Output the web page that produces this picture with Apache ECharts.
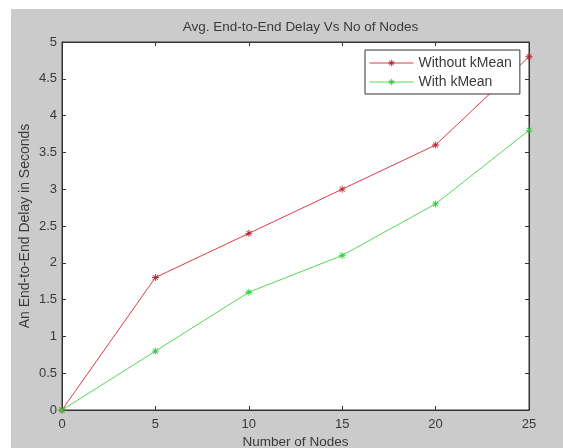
<!DOCTYPE html>
<html>
<head>
<meta charset="utf-8">
<title>Avg. End-to-End Delay Vs No of Nodes</title>
<script src="https://cdn.jsdelivr.net/npm/echarts@6/dist/echarts.min.js"></script>
<style>
  html, body { margin: 0; padding: 0; background: #ffffff; }
  #chart { width: 563px; height: 448px; }
</style>
</head>
<body>
<div id="chart"></div>
<script>
// Node counts on the x axis
const nodes = [0, 5, 10, 15, 20, 25];
// Average end-to-end delay (seconds)
const withoutKMean = [0, 1.8, 2.4, 3.0, 3.6, 4.8];
const withKMean = [0, 0.8, 1.6, 2.1, 2.8, 3.8];
const seriesNames = ['Without kMean', 'With kMean'];

const FONT = 'Liberation Sans, Arial, sans-serif';
const TEXT = '#3a3a3a';

// Asterisk marker built from four thin bars
const ASTERISK = 'path://M4.4 0L5.6 0L5.6 10L4.4 10Z' +
  'M0 4.4L10 4.4L10 5.6L0 5.6Z' +
  'M1 1.8L1.8 1L9 8.2L8.2 9Z' +
  'M8.2 1L9 1.8L1.8 9L1 8.2Z';

const pairs = (xs, ys) => xs.map((x, i) => [x, ys[i]]);

const chart = echarts.init(document.getElementById('chart'), null, { renderer: 'canvas' });

const tickInside = { show: true, inside: true, length: 4, lineStyle: { color: '#333', width: 1 } };

chart.setOption({
  animation: false,
  backgroundColor: 'transparent',
  graphic: [{
    type: 'rect',
    z: -10,
    silent: true,
    shape: { x: 11, y: 9, width: 552, height: 439 },
    style: { fill: '#cbcbcb' }
  }],
  title: {
    text: 'Avg. End-to-End Delay Vs No of Nodes',
    left: 295.5,
    textAlign: 'center',
    top: 15,
    textStyle: { fontFamily: FONT, fontSize: 13.5, fontWeight: 'normal', color: TEXT }
  },
  legend: {
    orient: 'vertical',
    left: 365,
    top: 50,
    padding: [5, 8, 4, 4],
    itemGap: 3,
    itemWidth: 44,
    itemHeight: 8,
    backgroundColor: '#ffffff',
    borderColor: '#333333',
    borderWidth: 1,
    borderRadius: 0,
    lineStyle: { width: 1 },
    textStyle: { fontFamily: FONT, fontSize: 14, color: TEXT, lineHeight: 16 },
    data: seriesNames
  },
  grid: {
    left: 62, top: 42, width: 467, height: 368,
    outerBoundsMode: 'none',
    containLabel: false,
    show: true,
    backgroundColor: '#ffffff',
    borderColor: '#333333',
    borderWidth: 1
  },
  xAxis: [{
    type: 'value',
    min: 0, max: 25, interval: 5,
    name: 'Number of Nodes',
    nameLocation: 'middle',
    nameGap: 25,
    nameMoveOverlap: false,
    nameTextStyle: { fontFamily: FONT, fontSize: 13.5, color: TEXT },
    axisLine: { show: true, onZero: false, lineStyle: { color: '#333' } },
    axisTick: tickInside,
    axisLabel: { fontFamily: FONT, fontSize: 13, color: TEXT, margin: 8 },
    splitLine: { show: false }
  }, {
    type: 'value',
    position: 'top',
    min: 0, max: 25, interval: 5,
    axisLine: { show: true, onZero: false, lineStyle: { color: '#333' } },
    axisTick: tickInside,
    axisLabel: { show: false },
    splitLine: { show: false }
  }],
  yAxis: [{
    type: 'value',
    min: 0, max: 5, interval: 0.5,
    name: 'An End-to-End Delay in Seconds',
    nameLocation: 'middle',
    nameGap: 30,
    nameMoveOverlap: false,
    nameTextStyle: { fontFamily: FONT, fontSize: 14, color: TEXT },
    axisLine: { show: true, onZero: false, lineStyle: { color: '#333' } },
    axisTick: tickInside,
    axisLabel: { fontFamily: FONT, fontSize: 13, color: TEXT, margin: 5 },
    splitLine: { show: false }
  }, {
    type: 'value',
    position: 'right',
    min: 0, max: 5, interval: 0.5,
    axisLine: { show: true, onZero: false, lineStyle: { color: '#333' } },
    axisTick: tickInside,
    axisLabel: { show: false },
    splitLine: { show: false }
  }],
  series: [{
    name: seriesNames[0],
    type: 'line',
    data: pairs(nodes, withoutKMean),
    symbol: ASTERISK,
    symbolSize: 7,
    showAllSymbol: true,
    clip: false,
    lineStyle: { color: '#dc3c46', width: 1 },
    itemStyle: { color: '#b8222e' },
    z: 3
  }, {
    name: seriesNames[1],
    type: 'line',
    data: pairs(nodes, withKMean),
    symbol: ASTERISK,
    symbolSize: 7,
    showAllSymbol: true,
    clip: false,
    lineStyle: { color: '#55d855', width: 1 },
    itemStyle: { color: '#2ec83a' },
    z: 3
  }]
});
</script>
</body>
</html>
